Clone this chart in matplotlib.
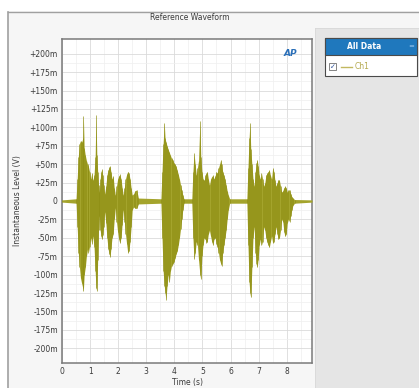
import matplotlib
matplotlib.use("Agg")
import matplotlib.pyplot as plt
from matplotlib.patches import Rectangle
from matplotlib.lines import Line2D

W, H = 419, 388

# ---- data (time in s, level in mV) ----
time_s = [
    0.00, 0.50, 0.54, 0.58, 0.62, 0.66, 0.70, 0.74, 0.76, 0.79, 0.83, 0.87, 0.91, 0.94, 0.98,
    1.02, 1.06, 1.10, 1.14, 1.18, 1.21, 1.24, 1.27, 1.30, 1.33, 1.36, 1.39, 1.42, 1.45, 1.48,
    1.52, 1.56, 1.60, 1.64, 1.68, 1.71, 1.74, 1.78, 1.82, 1.86, 1.90, 1.94, 1.98, 2.02, 2.06,
    2.10, 2.14, 2.18, 2.22, 2.26, 2.30, 2.34, 2.38, 2.42, 2.46, 2.50, 2.55, 2.60, 2.66, 2.72,
    3.52, 3.56, 3.60, 3.64, 3.67, 3.70, 3.74, 3.78, 3.82, 3.86, 3.90, 3.94, 3.98, 4.02, 4.06,
    4.10, 4.14, 4.18, 4.22, 4.26, 4.30, 4.34,
    4.62, 4.66, 4.70, 4.74, 4.78, 4.82, 4.86, 4.91, 4.94, 4.98, 5.02, 5.06, 5.10, 5.14, 5.17,
    5.21, 5.25, 5.29, 5.33, 5.37, 5.41, 5.45, 5.49, 5.53, 5.57, 5.61, 5.65, 5.68, 5.72, 5.76,
    5.80, 5.84, 5.88, 5.92, 5.97,
    6.58, 6.62, 6.66, 6.69, 6.72, 6.76, 6.80, 6.84, 6.88, 6.92, 6.95, 6.98, 7.02, 7.06, 7.10,
    7.14, 7.18, 7.22, 7.26, 7.30, 7.34, 7.38, 7.42, 7.46, 7.50, 7.54, 7.58, 7.62, 7.66, 7.70,
    7.74, 7.78, 7.82, 7.86, 7.90, 7.94, 7.98, 8.02, 8.06, 8.10, 8.14, 8.18, 8.22, 8.28, 8.90,
]
level_pos_mV = [
    1.5, 3, 30, 60, 78, 82, 80, 85, 116, 72, 62, 55, 50, 47, 40,
    30, 38, 28, 35, 60, 117, 62, 40, 22, 12, 30, 40, 43, 35, 22,
    10, 20, 35, 42, 46, 47, 40, 30, 34, 18, 8, 20, 30, 34, 36,
    30, 18, 8, 18, 30, 36, 40, 38, 30, 18, 8, 10, 14, 15, 4,
    3, 40, 78, 106, 85, 80, 75, 70, 66, 62, 58, 56, 52, 50, 47,
    42, 36, 30, 22, 15, 8, 3,
    3, 40, 65, 50, 35, 45, 55, 108, 60, 40, 30, 28, 35, 38, 40,
    30, 22, 30, 33, 35, 30, 34, 40, 38, 45, 50, 56, 50, 40, 35,
    30, 22, 14, 8, 3,
    3, 45, 85, 106, 70, 50, 30, 20, 40, 52, 56, 48, 35, 30, 38,
    30, 20, 25, 35, 38, 40, 42, 35, 30, 45, 40, 28, 20, 25, 29,
    28, 20, 12, 14, 18, 20, 18, 12, 15, 15, 10, 6, 4, 2, 1.5,
]
level_neg_mV = [
    -1.5, -3, -35, -70, -90, -105, -112, -118, -122, -100, -90, -75, -65, -70, -62,
    -50, -58, -48, -62, -95, -118, -122, -80, -40, -20, -40, -48, -52, -46, -35,
    -15, -30, -50, -65, -72, -76, -65, -50, -45, -25, -10, -28, -42, -52, -57,
    -50, -32, -12, -28, -45, -58, -70, -68, -55, -35, -12, -8, -10, -10, -4,
    -3, -50, -95, -115, -125, -134, -115, -100, -110, -95, -88, -85, -83, -78, -72,
    -68, -60, -50, -38, -25, -12, -3,
    -3, -50, -79, -70, -55, -60, -80, -100, -106, -75, -60, -50, -52, -57, -55,
    -45, -40, -48, -55, -60, -52, -50, -58, -62, -70, -80, -85, -88, -70, -60,
    -50, -40, -25, -12, -3,
    -3, -60, -110, -125, -131, -90, -50, -35, -70, -85, -90, -80, -60, -52, -60,
    -55, -35, -40, -50, -56, -60, -63, -55, -48, -57, -55, -45, -35, -45, -52,
    -50, -40, -25, -28, -42, -48, -45, -30, -25, -28, -20, -12, -6, -3, -1.5,
]

y_ticks = [200, 175, 150, 125, 100, 75, 50, 25, 0, -25, -50, -75, -100, -125, -150, -175, -200]
y_tick_labels = ["+200m", "+175m", "+150m", "+125m", "+100m", "+75m", "+50m", "+25m", "0",
                 "-25m", "-50m", "-75m", "-100m", "-125m", "-150m", "-175m", "-200m"]
x_ticks = [0, 1, 2, 3, 4, 5, 6, 7, 8]
x_tick_labels = ["0", "1", "2", "3", "4", "5", "6", "7", "8"]

title_text = "Reference Waveform"
x_label = "Time (s)"
y_label = "Instantaneous Level (V)"
legend_header = "All Data"
series_name = "Ch1"

OLIVE = "#a4a42c"
OLIVE_DARK = "#8e8e14"
TXT = "#3a3a3a"

fig = plt.figure(figsize=(W / 100, H / 100), dpi=100)
fig.patch.set_facecolor("white")


def fx(x):
    return x / W


def fy(y):
    return 1 - y / H


def rect(x0, y0, x1, y1, fc, ec="none", lw=0.0, z=-10):
    fig.add_artist(Rectangle((fx(x0), fy(y1)), fx(x1) - fx(x0), fy(y0) - fy(y1),
                             transform=fig.transFigure, facecolor=fc, edgecolor=ec,
                             linewidth=lw, zorder=z))


def hline(y, x0, x1, c, lw=1.0, z=-5):
    fig.add_artist(Line2D([fx(x0), fx(x1)], [fy(y), fy(y)], transform=fig.transFigure,
                          color=c, linewidth=lw, zorder=z))


def vline(x, y0, y1, c, lw=1.0, z=-5):
    fig.add_artist(Line2D([fx(x), fx(x)], [fy(y0), fy(y1)], transform=fig.transFigure,
                          color=c, linewidth=lw, zorder=z))


# panels
rect(8, 11, 419, 388, "#f6f6f6")
rect(315, 28, 419, 388, "#e5e5e5")
hline(28, 315, 419, "#d8d8d8", 0.6)
vline(315, 28, 388, "#d8d8d8", 0.6)
hline(11.5, 8, 419, "#a0a0a0", 1.0)
vline(8, 11.5, 388, "#a0a0a0", 1.2)

# axes
ax = fig.add_axes([fx(62), fy(363), fx(312) - fx(62), fy(39) - fy(363)])
ax.set_facecolor("white")
ax.set_xlim(0, 8.9)
ax.set_ylim(-220, 220)

ax.set_xticks(x_ticks)
ax.set_xticklabels(x_tick_labels)
ax.set_yticks(y_ticks)
ax.set_yticklabels(y_tick_labels)
ax.set_xticks([t + 0.5 for t in x_ticks], minor=True)
ax.set_yticks([v + 12.5 for v in y_ticks[1:]], minor=True)
ax.tick_params(which="both", length=0)
ax.tick_params(axis="both", labelsize=5.5, colors=TXT, pad=3)
ax.grid(which="major", color="#dadada", linewidth=0.6)
ax.grid(which="minor", color="#efefef", linewidth=0.5)
ax.set_axisbelow(True)
for s in ax.spines.values():
    s.set_color("#7a7a7a")
    s.set_linewidth(1.1)

ax.fill_between(time_s, level_neg_mV, level_pos_mV, color=OLIVE, linewidth=0, zorder=3)
ax.vlines(time_s, level_neg_mV, level_pos_mV, color=OLIVE_DARK, linewidth=0.45, zorder=4)

# AP logo
ax.text(0.915, 0.955, "AP", transform=ax.transAxes, color="#2a6fb8", fontsize=6.5,
        fontweight="bold", fontstyle="italic", ha="center", va="center", zorder=6)

# texts
fig.text(fx(190), fy(18), title_text, fontsize=5.5, color=TXT, ha="center", va="center")
fig.text(fx(187), fy(383), x_label, fontsize=5.5, color=TXT, ha="center", va="center")
fig.text(fx(18), fy(201), y_label, fontsize=5.5, color=TXT, ha="center", va="center",
         rotation=90)

# legend box
rect(325, 38, 417, 76, "white", ec="#4a4a4a", lw=0.8, z=5)
rect(325, 38, 417, 55, "#1f78bd", ec="#4a4a4a", lw=0.8, z=6)
fig.text(fx(364), fy(46.5), legend_header, fontsize=5.5, color="white", fontweight="bold",
         ha="center", va="center", zorder=7)
fig.text(fx(411), fy(46), "=", fontsize=5, color="#9ec9ee", ha="center", va="center", zorder=7)
rect(329, 63, 336, 70, "white", ec="#707070", lw=0.6, z=7)
fig.text(fx(332.5), fy(66.5), "\u2713", fontsize=5, color="#2a4f9a", ha="center", va="center",
         zorder=8, family=["DejaVu Sans"])
fig.add_artist(Line2D([fx(341), fx(352)], [fy(66.5), fy(66.5)], transform=fig.transFigure,
                      color="#c2b860", linewidth=1.0, zorder=7))
fig.text(fx(355), fy(66.5), series_name, fontsize=5.5, color="#b5aa50", ha="left", va="center",
         zorder=7)

fig.savefig("out.png", dpi=100, facecolor=fig.get_facecolor())
